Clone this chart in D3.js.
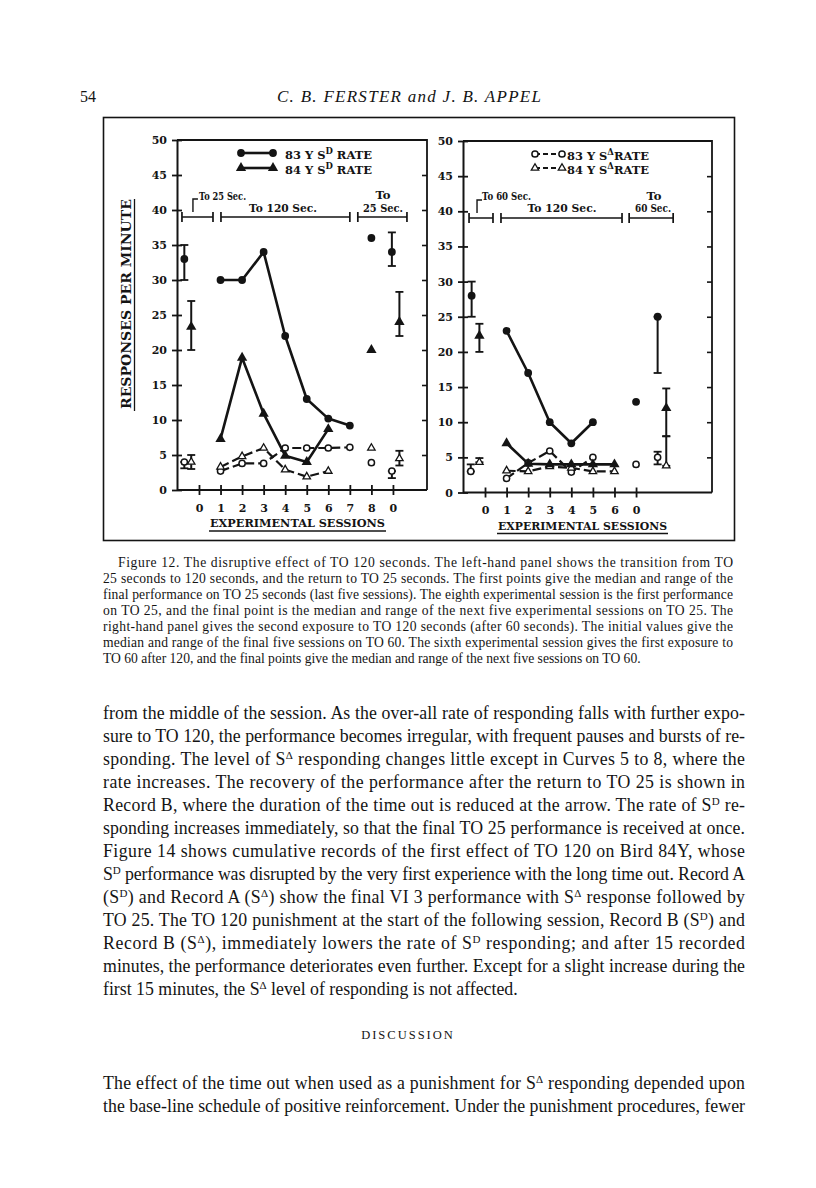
<!DOCTYPE html>
<html><head><meta charset="utf-8">
<script src="https://cdn.jsdelivr.net/npm/d3@7/dist/d3.min.js"></script>
<style>body{margin:0;background:#fff}svg{display:block}</style>
</head><body><svg id="c" width="816" height="1188"></svg>
<script>
// ---------- DATA ----------
const yTicks = [0,5,10,15,20,25,30,35,40,45,50];
const leftTickLabels = ["0","1","2","3","4","5","6","7","8","0"];
const rightTickLabels = ["0","1","2","3","4","5","6","0"];

// left panel (TO 25 -> TO 120 -> TO 25), sessions 1..n
const leftSessions83 = [1,2,3,4,5,6,7];
const leftSessions84 = [1,2,3,4,5,6];
const left83SD = [30,30,34,22,13,10.2,9.2];
const left84SD = [7.3,18.9,10.9,4.9,4,8.7];
const left83SDelta = [2.7,3.8,3.8,6,6,6,6.1];
const left84SDelta = [3.3,4.8,6,2.9,1.9,2.7];
// summary points: [slot, median, low, high]
const left83SDSummary = [[-0.68,33,30,35],[8,36,36,36],[8.95,34,32,36.8]];
const left84SDSummary = [[-0.36,23.3,20,27],[8,20,20,20],[9.3,24,22,28.3]];
const left83SDeltaSummary = [[-0.68,4,3.1,4],[8,3.9,3.9,3.9],[8.95,2.7,1.7,2.7]];
const left84SDeltaSummary = [[-0.36,4,3,5],[8,6,6,6],[9.3,4.5,3.5,5.6]];

// right panel (TO 60 -> TO 120 -> TO 60)
const rightSessions83 = [1,2,3,4,5];
const rightSessions84 = [1,2,3,4,5,6];
const right83SD = [23,17,10,7,10];
const right84SD = [7,4.1,4,4,4,4];
const right83SDelta = [2,4.2,5.9,2.9,5];
const right84SDelta = [3.1,3,3.7,3.5,3,3];
const right83SDSummary = [[-0.62,28,25,30],[7,12.9,12.9,12.9],[8,25,17,25]];
const right84SDSummary = [[-0.26,22.3,20,24],[8.4,12,8,14.8]];
const right83SDeltaSummary = [[-0.66,3,3,4],[7,4,4,4],[8,5,4,5.8]];
const right84SDeltaSummary = [[-0.26,4.3,4.3,4.9],[8.4,3.8,3.8,8]];

// ---------- DRAW ----------
const svg = d3.select("#c");
const ink = "#141414";
const TIMES = "'Liberation Serif','Times New Roman',Times,serif";
svg.append("rect").attr("width",816).attr("height",1188).attr("fill","#fff");

function rich(sel, str, supSize, shift){
  const parts = str.split(/(\^\{[^}]*\})/);
  let up=false;
  parts.forEach(p=>{
    if(!p) return;
    if(p.startsWith("^{")){
      sel.append("tspan").attr("dy",-shift).attr("font-size",supSize).text(p.slice(2,-1));
      up=true;
    } else {
      const t=sel.append("tspan").text(p);
      if(up){t.attr("dy",shift);up=false;}
    }
  });
  return sel;
}

// header
svg.append("text").attr("x",80).attr("y",102).attr("font-family",TIMES)
  .attr("font-size",16).attr("fill",ink).text("54");
svg.append("text").attr("x",277).attr("y",102).attr("font-family",TIMES)
  .attr("font-style","italic").attr("font-size",17).attr("fill",ink)
  .attr("textLength",264).attr("lengthAdjust","spacing")
  .text("C. B. FERSTER and J. B. APPEL");

// figure frame
svg.append("rect").attr("x",103.5).attr("y",117.5).attr("width",631).attr("height",423)
  .attr("fill","none").attr("stroke",ink).attr("stroke-width",1.6);

const F = "'DejaVu Serif',serif";
const sym = (type,size)=>d3.symbol().type(type).size(size)();

function marker(g, kind, cx, cy){
  if(kind==="fc") g.append("circle").attr("cx",cx).attr("cy",cy).attr("r",3.9).attr("fill",ink);
  else if(kind==="oc") g.append("circle").attr("cx",cx).attr("cy",cy).attr("r",3.1)
      .attr("fill","#fff").attr("stroke",ink).attr("stroke-width",1.5);
  else if(kind==="ft") g.append("path").attr("d",sym(d3.symbolTriangle,46))
      .attr("transform",`translate(${cx},${cy})`).attr("fill",ink);
  else if(kind==="ot") g.append("path").attr("d",sym(d3.symbolTriangle,24))
      .attr("transform",`translate(${cx},${cy})`).attr("fill","#fff").attr("stroke",ink).attr("stroke-width",1.3);
}

function panel(cfg){
  const x = d3.scaleLinear().domain(cfg.xDomain).range([cfg.x0,cfg.x1]);
  const y = d3.scaleLinear().domain([0,50]).range([cfg.yBottom,cfg.yTop]);
  const g = svg.append("g");
  g.append("path").attr("d",`M${cfg.x0},${cfg.yTop}H${cfg.x1}V${cfg.yBottom}`)
    .attr("fill","none").attr("stroke",ink).attr("stroke-width",1.8);
  const gr = g.append("g").attr("transform",`translate(${cfg.x1},0)`)
    .call(d3.axisLeft(y).tickValues(yTicks.slice(1,-1)).tickSize(5).tickFormat("").tickSizeOuter(0));
  gr.select(".domain").remove();
  gr.selectAll("line").attr("stroke",ink).attr("stroke-width",1.6);
  const gl = g.append("g").attr("transform",`translate(${cfg.x0},0)`)
    .call(d3.axisLeft(y).tickValues(yTicks).tickSize(5).tickPadding(5).tickSizeOuter(0));
  gl.select(".domain").attr("stroke",ink).attr("stroke-width",2);
  gl.selectAll(".tick line").attr("x1",5).attr("stroke",ink).attr("stroke-width",1.8);
  gl.selectAll(".tick text").attr("font-family",F).attr("font-weight","bold").attr("font-size",11).attr("fill",ink);
  const gb = g.append("g").attr("transform",`translate(0,${cfg.yBottom})`)
    .call(d3.axisBottom(x).tickValues(d3.range(cfg.labels.length)).tickFormat(i=>cfg.labels[i])
      .tickSize(5).tickPadding(9).tickSizeOuter(0));
  gb.select(".domain").attr("stroke",ink).attr("stroke-width",2).attr("d",`M${cfg.x0},0H${cfg.x1}`);
  gb.selectAll(".tick line").attr("y1",-5).attr("stroke",ink).attr("stroke-width",1.8);
  gb.selectAll(".tick text").attr("font-family",F).attr("font-weight","bold").attr("font-size",11).attr("fill",ink);

  g.append("text").attr("x",cfg.xTitleX).attr("y",cfg.yBottom+37)
    .attr("font-family",F).attr("font-weight","bold").attr("font-size",10.5).attr("fill",ink)
    .attr("textLength",cfg.xTitleW).attr("lengthAdjust","spacingAndGlyphs").text("EXPERIMENTAL SESSIONS");
  g.append("line").attr("x1",cfg.xTitleX-1).attr("x2",cfg.xTitleX+cfg.xTitleW+1)
    .attr("y1",cfg.yBottom+41).attr("y2",cfg.yBottom+41).attr("stroke",ink).attr("stroke-width",1.4);

  const line = d3.line().x(d=>x(d[0])).y(d=>y(d[1]));
  cfg.series.forEach(s=>{
    g.append("path").attr("d",line(d3.zip(s.sessions,s.values))).attr("fill","none")
      .attr("stroke",ink).attr("stroke-width",s.dashed?2.2:2.6)
      .attr("stroke-dasharray",s.dashed?"9,4":null).attr("stroke-linejoin","round");
  });
  cfg.series.forEach(s=>{
    s.summary.forEach(([sl,med,lo,hi])=>{
      if(hi-lo<0.01) return;
      const cx=x(sl);
      g.append("line").attr("x1",cx).attr("x2",cx).attr("y1",y(lo)).attr("y2",y(hi)).attr("stroke",ink).attr("stroke-width",2);
      [lo,hi].forEach(v=>g.append("line").attr("x1",cx-4).attr("x2",cx+4).attr("y1",y(v)).attr("y2",y(v))
        .attr("stroke",ink).attr("stroke-width",1.8));
    });
  });
  cfg.series.forEach(s=>{
    d3.zip(s.sessions,s.values).forEach(d=>marker(g,s.kind,x(d[0]),y(d[1])));
    s.summary.forEach(([sl,med])=>marker(g,s.kind,x(sl),y(med)));
  });

  cfg.legend.forEach((L,i)=>{
    const ly = cfg.legendY[i];
    g.append("line").attr("x1",cfg.legendX0).attr("x2",cfg.legendX1).attr("y1",ly).attr("y2",ly)
      .attr("stroke",ink).attr("stroke-width",L.dashed?2:2.6).attr("stroke-dasharray",L.dashed?"5,3":null);
    marker(g,L.kind,cfg.legendX0,ly); marker(g,L.kind,cfg.legendX1,ly);
    const t=g.append("text").attr("x",cfg.legendTextX).attr("y",ly+5.5).attr("font-family",F)
      .attr("font-weight","bold").attr("font-size",11.5).attr("fill",ink);
    rich(t,L.text,8.5,4.5);
    t.attr("textLength",cfg.legendTextW).attr("lengthAdjust","spacingAndGlyphs");
  });

  const by = y(cfg.bracketY);
  cfg.brackets.forEach(([a,b])=>{
    g.append("path").attr("d",`M${x(a)},${by-5}V${by+5}M${x(a)},${by}H${x(b)}M${x(b)},${by-5}V${by+5}`)
      .attr("fill","none").attr("stroke",ink).attr("stroke-width",1.7);
  });
  const px = x(cfg.pointerSlot);
  g.append("path").attr("d",`M${px+5},${by-18}H${px}V${by-5}`).attr("fill","none").attr("stroke",ink).attr("stroke-width",1.4);
  cfg.notes.forEach(n=>{
    g.append("text").attr("x",n.x).attr("y",n.y).attr("text-anchor",n.anchor||"start")
      .attr("font-family",F).attr("font-weight","bold").attr("font-size",11.5).attr("fill",ink)
      .attr("textLength",n.w).attr("lengthAdjust","spacingAndGlyphs").text(n.t);
  });
}

panel({
  x0:177,x1:427,yTop:140,yBottom:490,xDomain:[-1.02,10.58],labels:leftTickLabels,
  xTitleX:210,xTitleW:175,
  series:[
    {sessions:leftSessions83,values:left83SDelta,summary:left83SDeltaSummary,kind:"oc",dashed:true},
    {sessions:leftSessions84,values:left84SDelta,summary:left84SDeltaSummary,kind:"ot",dashed:true},
    {sessions:leftSessions83,values:left83SD,summary:left83SDSummary,kind:"fc",dashed:false},
    {sessions:leftSessions84,values:left84SD,summary:left84SDSummary,kind:"ft",dashed:false}
  ],
  legend:[{kind:"fc",dashed:false,text:"83 Y S^{D} RATE"},{kind:"ft",dashed:false,text:"84 Y S^{D} RATE"}],
  legendY:[153,168],legendX0:241,legendX1:273,legendTextX:285,legendTextW:87,
  bracketY:39,brackets:[[-0.79,0.65],[1.02,7.0],[7.37,9.65]],pointerSlot:-0.28,
  notes:[
    {t:"To 25 Sec.",x:199,y:200,w:47},
    {t:"To 120 Sec.",x:283,y:212,anchor:"middle",w:68},
    {t:"To",x:383,y:199,anchor:"middle",w:15},
    {t:"25 Sec.",x:383,y:212,anchor:"middle",w:40}
  ]
});

panel({
  x0:463,x1:712,yTop:141,yBottom:492.5,xDomain:[-1.02,10.52],labels:rightTickLabels,
  xTitleX:498,xTitleW:169,
  series:[
    {sessions:rightSessions83,values:right83SDelta,summary:right83SDeltaSummary,kind:"oc",dashed:true},
    {sessions:rightSessions84,values:right84SDelta,summary:right84SDeltaSummary,kind:"ot",dashed:true},
    {sessions:rightSessions83,values:right83SD,summary:right83SDSummary,kind:"fc",dashed:false},
    {sessions:rightSessions84,values:right84SD,summary:right84SDSummary,kind:"ft",dashed:false}
  ],
  legend:[{kind:"oc",dashed:true,text:"83 Y S^{Δ}RATE"},{kind:"ot",dashed:true,text:"84 Y S^{Δ}RATE"}],
  legendY:[154,168],legendX0:535,legendX1:562,legendTextX:567,legendTextW:82,
  bracketY:39.05,brackets:[[-0.74,0.37],[0.74,6.35],[6.68,8.72]],pointerSlot:-0.37,
  notes:[
    {t:"To 60 Sec.",x:482,y:200,w:49},
    {t:"To 120 Sec.",x:562,y:212,anchor:"middle",w:69},
    {t:"To",x:654,y:200,anchor:"middle",w:15},
    {t:"60 Sec.",x:653,y:212,anchor:"middle",w:36}
  ]
});

svg.append("text").attr("transform","translate(131,304) rotate(-90)")
  .attr("text-anchor","middle").attr("font-family",F).attr("font-weight","bold").attr("font-size",12.5)
  .attr("fill",ink).attr("textLength",210).attr("lengthAdjust","spacingAndGlyphs").text("RESPONSES PER MINUTE");
svg.append("line").attr("x1",134.5).attr("x2",134.5).attr("y1",199).attr("y2",411).attr("stroke",ink).attr("stroke-width",1.3);

// ---------- CAPTION ----------
const captionLines = [
 "Figure 12. The disruptive effect of TO 120 seconds. The left-hand panel shows the transition from TO",
 "25 seconds to 120 seconds, and the return to TO 25 seconds. The first points give the median and range of the",
 "final performance on TO 25 seconds (last five sessions). The eighth experimental session is the first performance",
 "on TO 25, and the final point is the median and range of the next five experimental sessions on TO 25. The",
 "right-hand panel gives the second exposure to TO 120 seconds (after 60 seconds). The initial values give the",
 "median and range of the final five sessions on TO 60. The sixth experimental session gives the first exposure to",
 "TO 60 after 120, and the final points give the median and range of the next five sessions on TO 60."
];
captionLines.forEach((s,i)=>{
  const t = svg.append("text").attr("x",i===0?118:103).attr("y",567+16*i)
    .attr("font-family",TIMES).attr("font-size",13.6).attr("fill",ink).text(s);
  if(i<captionLines.length-1) t.attr("textLength",i===0?615:630).attr("lengthAdjust","spacing");
});

// ---------- BODY ----------
const bodyLines = [
 "from the middle of the session. As the over-all rate of responding falls with further expo-",
 "sure to TO 120, the performance becomes irregular, with frequent pauses and bursts of re-",
 "sponding. The level of S^{Δ} responding changes little except in Curves 5 to 8, where the",
 "rate increases. The recovery of the performance after the return to TO 25 is shown in",
 "Record B, where the duration of the time out is reduced at the arrow. The rate of S^{D} re-",
 "sponding increases immediately, so that the final TO 25 performance is received at once.",
 "Figure 14 shows cumulative records of the first effect of TO 120 on Bird 84Y, whose",
 "S^{D} performance was disrupted by the very first experience with the long time out. Record A",
 "(S^{D}) and Record A (S^{Δ}) show the final VI 3 performance with S^{Δ} response followed by",
 "TO 25. The TO 120 punishment at the start of the following session, Record B (S^{D}) and",
 "Record B (S^{Δ}), immediately lowers the rate of S^{D} responding; and after 15 recorded",
 "minutes, the performance deteriorates even further. Except for a slight increase during the",
 "first 15 minutes, the S^{Δ} level of responding is not affected."
];
bodyLines.forEach((s,i)=>{
  const t = svg.append("text").attr("x",103).attr("y",719+23*i)
    .attr("font-family",TIMES).attr("font-size",17.8).attr("fill",ink);
  rich(t,s,11,6);
  if(i<bodyLines.length-1) t.attr("textLength",642).attr("lengthAdjust","spacing");
});
svg.append("text").attr("x",408).attr("y",1039).attr("text-anchor","middle")
  .attr("font-family",TIMES).attr("font-size",12.5).attr("letter-spacing",2)
  .attr("fill",ink).text("DISCUSSION");
const tailLines = [
 "The effect of the time out when used as a punishment for S^{Δ} responding depended upon",
 "the base-line schedule of positive reinforcement. Under the punishment procedures, fewer"
];
tailLines.forEach((s,i)=>{
  const t = svg.append("text").attr("x",103).attr("y",1089+23*i)
    .attr("font-family",TIMES).attr("font-size",17.8).attr("fill",ink);
  rich(t,s,11,6);
  t.attr("textLength",642).attr("lengthAdjust","spacing");
});
</script>
</body></html>
